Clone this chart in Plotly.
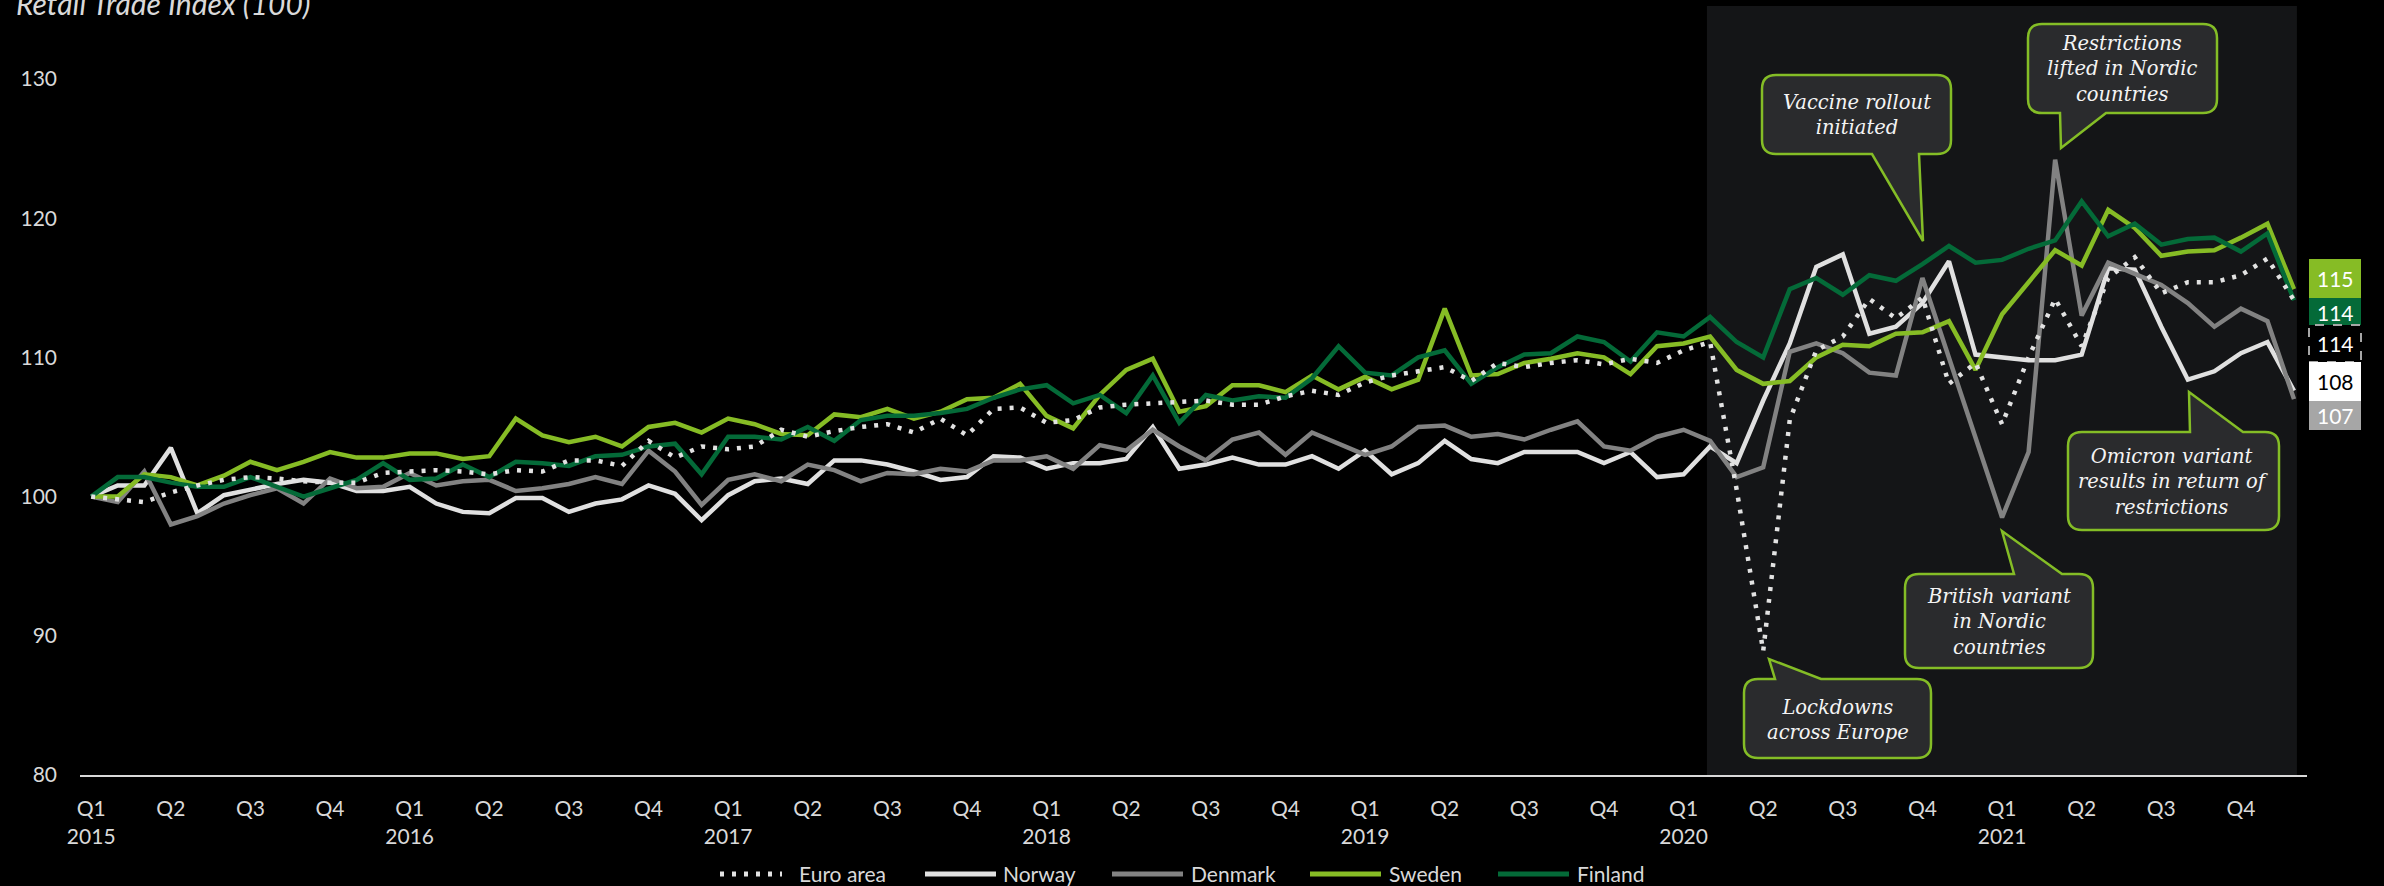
import plotly.graph_objects as go

# ---------------- data (monthly, Jan 2015 .. Dec 2021, index 2015 = 100) ----------------
euro_area = [100, 99.8, 99.6, 100.3, 100.8, 101.2, 101.4, 101.3, 101.1, 101.0, 101.0, 101.7,
             101.8, 101.9, 101.8, 101.6, 101.9, 101.8, 102.6, 102.6, 102.2, 104.0, 102.8, 103.6,
             103.4, 103.6, 104.8, 104.3, 104.7, 105.0, 105.2, 104.6, 105.6, 104.4, 106.3, 106.4,
             105.3, 105.5, 106.4, 106.6, 106.7, 106.8, 106.9, 106.6, 106.6, 107.2, 107.6, 107.3,
             108.2, 108.7, 109.0, 109.3, 108.3, 109.6, 109.3, 109.6, 109.8, 109.5, 109.9, 109.6,
             110.5, 111.1, 100.5, 88.9, 105.5, 110.5, 111.5, 114.2, 112.8, 114.3, 108.1, 109.6,
             105.2, 110.0, 114.2, 110.8, 115.7, 117.2, 114.6, 115.4, 115.4, 115.9, 117.1, 114.1]
norway = [100, 100.8, 100.8, 103.5, 98.8, 100.1, 100.5, 100.9, 101.2, 101.0, 100.4, 100.4,
          100.7, 99.5, 98.9, 98.8, 99.9, 99.9, 98.9, 99.5, 99.8, 100.8, 100.2, 98.3,
          100.1, 101.1, 101.3, 100.9, 102.6, 102.6, 102.3, 101.8, 101.2, 101.4, 102.9, 102.8,
          102.0, 102.4, 102.4, 102.7, 105.0, 102.0, 102.3, 102.8, 102.3, 102.3, 102.9, 102.0,
          103.3, 101.6, 102.4, 104.0, 102.7, 102.4, 103.2, 103.2, 103.2, 102.4, 103.2, 101.4,
          101.6, 103.6, 102.4, 106.9, 111.0, 116.5, 117.4, 111.7, 112.2, 113.9, 116.9, 110.2,
          110.0, 109.8, 109.8, 110.2, 116.4, 116.3, 112.2, 108.4, 109.0, 110.3, 111.1, 107.6]
denmark = [100, 99.6, 101.8, 98.0, 98.6, 99.5, 100.1, 100.6, 99.5, 101.3, 100.6, 100.7,
           101.7, 100.8, 101.1, 101.2, 100.4, 100.6, 100.9, 101.4, 100.9, 103.3, 101.8, 99.4,
           101.2, 101.6, 101.1, 102.3, 101.9, 101.1, 101.7, 101.6, 102.0, 101.8, 102.6, 102.6,
           102.9, 102.0, 103.7, 103.3, 104.8, 103.6, 102.6, 104.1, 104.6, 103.0, 104.6, 103.8,
           103.0, 103.6, 105.0, 105.1, 104.3, 104.5, 104.1, 104.8, 105.4, 103.6, 103.3, 104.3,
           104.8, 104.0, 101.4, 102.1, 110.4, 111.0, 110.3, 108.9, 108.7, 115.7, 110.0, 104.3,
           98.5, 103.2, 124.2, 113.0, 116.8, 116.0, 115.2, 113.9, 112.2, 113.5, 112.6, 107.0]
sweden = [100, 100, 101.6, 101.4, 100.8, 101.5, 102.5, 101.9, 102.5, 103.2, 102.8, 102.8,
          103.1, 103.1, 102.7, 102.9, 105.6, 104.4, 103.9, 104.3, 103.6, 105.0, 105.3, 104.6,
          105.6, 105.2, 104.5, 104.4, 105.9, 105.7, 106.3, 105.6, 106.1, 107.0, 107.1, 108.1,
          105.8, 104.9, 107.3, 109.1, 109.9, 106.1, 106.5, 108.0, 108.0, 107.5, 108.7, 107.7,
          108.6, 107.7, 108.4, 113.5, 108.7, 108.8, 109.6, 109.9, 110.3, 110.0, 108.8, 110.8,
          111.0, 111.5, 109.1, 108.1, 108.3, 110.0, 110.9, 110.8, 111.7, 111.8, 112.6, 109.1,
          113.1, 115.4, 117.7, 116.6, 120.6, 119.3, 117.3, 117.6, 117.7, 118.6, 119.6, 114.9]
finland = [100, 101.4, 101.4, 101.0, 100.7, 100.7, 101.4, 100.7, 100.0, 100.6, 101.2, 102.4,
           101.2, 101.3, 102.3, 101.4, 102.5, 102.4, 102.2, 102.9, 103.0, 103.6, 103.8, 101.6,
           104.3, 104.3, 104.1, 105.0, 104.0, 105.5, 105.8, 105.8, 106.0, 106.3, 107.1, 107.7,
           108.0, 106.7, 107.3, 106.0, 108.7, 105.3, 107.3, 106.9, 107.2, 107.1, 108.5, 110.8,
           108.9, 108.7, 110.0, 110.5, 108.1, 109.3, 110.2, 110.3, 111.5, 111.1, 109.7, 111.8,
           111.5, 112.9, 111.1, 110.0, 114.9, 115.7, 114.5, 115.9, 115.5, 116.7, 118.0, 116.8,
           117.0, 117.8, 118.4, 121.2, 118.7, 119.6, 118.1, 118.5, 118.6, 117.6, 118.9, 114.1]

years = [2015, 2016, 2017, 2018, 2019, 2020, 2021]
quarters = ["Q1", "Q2", "Q3", "Q4"]
y_ticks = [80, 90, 100, 110, 120, 130]

months = list(range(len(euro_area)))
tick_vals = list(range(0, len(months), 3))
tick_text = []
for yr in years:
    for q in quarters:
        tick_text.append(f"{q}<br>{yr}" if q == "Q1" else q)

# ---------------- styling ----------------
C_EURO = "#e2e2e2"
C_NOR = "#e0e0e0"
C_DEN = "#828282"
C_SWE = "#86bc25"
C_FIN = "#046a38"
TXT = "#d9d9d9"
SANS = "Lato, 'Open Sans', sans-serif"
SERIF = "'DejaVu Serif', 'Liberation Serif', serif"

W, H = 2384, 886
PL, PR, PT, PB = 80, 2307, 6, 775
X_RANGE = [-0.422, 83.49]
Y_RANGE = [80, 135.24]
SHADE = (60.88, 83.11)


def px(x):
    return (x - PL) / (PR - PL)


def py(y):
    return (PB - y) / (PB - PT)


fig = go.Figure()

series = [("Norway", norway, C_NOR, None), ("Denmark", denmark, C_DEN, None),
          ("Sweden", sweden, C_SWE, None), ("Finland", finland, C_FIN, None),
          ("Euro area", euro_area, C_EURO, "4px,8px")]
for name, vals, col, dash in series:
    fig.add_trace(go.Scatter(x=months, y=vals, mode="lines", name=name,
                             line=dict(color=col, width=4.5, dash=dash if dash else "solid"),
                             showlegend=False, hoverinfo="skip"))

shapes = []
annotations = []

# shaded pandemic period
shapes.append(dict(type="rect", xref="x", yref="paper", x0=SHADE[0], x1=SHADE[1], y0=0, y1=1,
                   fillcolor="#141517", line=dict(width=0), layer="below"))


def bubble(x0, y0, x1, y1, r, side, b1, b2, tip):
    tx, ty = tip
    P = lambda x, y: f"{px(x):.6f},{py(y):.6f}"
    d = f"M{P(x0 + r, y0)}"
    if side == "top":
        d += f" L{P(b1, y0)} L{P(tx, ty)} L{P(b2, y0)}"
    d += f" L{P(x1 - r, y0)} Q{P(x1, y0)} {P(x1, y0 + r)}"
    d += f" L{P(x1, y1 - r)} Q{P(x1, y1)} {P(x1 - r, y1)}"
    if side == "bottom":
        d += f" L{P(b2, y1)} L{P(tx, ty)} L{P(b1, y1)}"
    d += f" L{P(x0 + r, y1)} Q{P(x0, y1)} {P(x0, y1 - r)}"
    d += f" L{P(x0, y0 + r)} Q{P(x0, y0)} {P(x0 + r, y0)} Z"
    return d


callouts = [
    ("Vaccine rollout<br>initiated", (1762, 75, 1951, 154), "bottom", 1872, 1919, (1923, 241)),
    ("Restrictions<br>lifted in Nordic<br>countries", (2028, 24, 2217, 113), "bottom", 2060, 2106, (2061, 148)),
    ("Omicron variant<br>results in return of<br>restrictions", (2068, 432, 2279, 530), "top", 2190, 2243, (2189, 392)),
    ("British variant<br>in Nordic<br>countries", (1905, 574, 2093, 668), "top", 2014, 2062, (2002, 531)),
    ("Lockdowns<br>across Europe", (1744, 679, 1931, 758), "top", 1775, 1821, (1769, 659)),
]
for text, (x0, y0, x1, y1), side, b1, b2, tip in callouts:
    shapes.append(dict(type="path", xref="paper", yref="paper",
                       path=bubble(x0, y0, x1, y1, 14, side, b1, b2, tip),
                       fillcolor="#2a2b2d", line=dict(color="#84bd26", width=2.5), layer="above"))
    annotations.append(dict(xref="paper", yref="paper", x=px((x0 + x1) / 2), y=py((y0 + y1) / 2 + 1),
                            text=f"<i>{text}</i>", showarrow=False, xanchor="center", yanchor="middle",
                            font=dict(family=SERIF, size=19.5, color="#f4f4f4")))

# end-value labels on the right
end_labels = [
    (sweden[-1], (259, 298), C_SWE, "white", None),
    (finland[-1], (298, 326), C_FIN, "white", None),
    (euro_area[-1], (325, 362), "black", "white", "#a6a6a6"),
    (norway[-1], (362, 401), "white", "black", None),
    (denmark[-1], (401, 430), "#a6a6a6", "white", None),
]
LX0, LX1 = 2309, 2361
for val, (ya, yb), fill, tcol, border in end_labels:
    shapes.append(dict(type="rect", xref="paper", yref="paper", x0=px(LX0), x1=px(LX1),
                       y0=py(yb), y1=py(ya), fillcolor=fill,
                       line=dict(color=border if border else fill, width=2 if border else 0,
                                 dash="dash" if border else "solid"),
                       layer="above"))
    annotations.append(dict(xref="paper", yref="paper", x=px((LX0 + LX1) / 2), y=py((ya + yb) / 2),
                            text=f"{round(val):d}", showarrow=False, xanchor="center", yanchor="middle",
                            font=dict(family=SANS, size=21, color=tcol)))

# custom legend
legend_items = [("Euro area", C_EURO, "4px,8px", 720, 782, 797),
                ("Norway", C_NOR, None, 925, 996, 1001),
                ("Denmark", C_DEN, None, 1112, 1183, 1189),
                ("Sweden", C_SWE, None, 1310, 1381, 1387),
                ("Finland", C_FIN, None, 1498, 1569, 1575)]
LEG_Y = 874
for name, col, dash, lx0, lx1, tx in legend_items:
    shapes.append(dict(type="line", xref="paper", yref="paper", x0=px(lx0), x1=px(lx1),
                       y0=py(LEG_Y), y1=py(LEG_Y),
                       line=dict(color=col, width=5, dash=dash if dash else "solid")))
    annotations.append(dict(xref="paper", yref="paper", x=px(tx), y=py(LEG_Y), text=name,
                            showarrow=False, xanchor="left", yanchor="middle",
                            font=dict(family=SANS, size=21, color=TXT)))

# chart title (partly cut at top as in the original)
annotations.append(dict(xref="paper", yref="paper", x=px(14), y=py(3), text="<i>Retail Trade Index (100)</i>",
                        showarrow=False, xanchor="left", yanchor="middle",
                        font=dict(family=SANS, size=30, color=TXT)))

fig.update_layout(
    width=W, height=H,
    margin=dict(l=PL, r=W - PR, t=PT, b=H - PB, pad=0),
    paper_bgcolor="black", plot_bgcolor="black",
    shapes=shapes, annotations=annotations,
    xaxis=dict(range=X_RANGE, tickvals=tick_vals, ticktext=tick_text, showgrid=False, zeroline=False,
               showline=True, linecolor="#d9d9d9", linewidth=2, ticks="",
               tickfont=dict(family=SANS, size=21, color=TXT), ticklabelstandoff=14,
               fixedrange=True),
    yaxis=dict(range=Y_RANGE, tickvals=y_ticks, showgrid=False, zeroline=False, showline=False,
               ticks="", tickfont=dict(family=SANS, size=21, color=TXT), ticklabelstandoff=22,
               fixedrange=True),
    showlegend=False,
)

fig.write_html("out.html", config={"displayModeBar": False})
